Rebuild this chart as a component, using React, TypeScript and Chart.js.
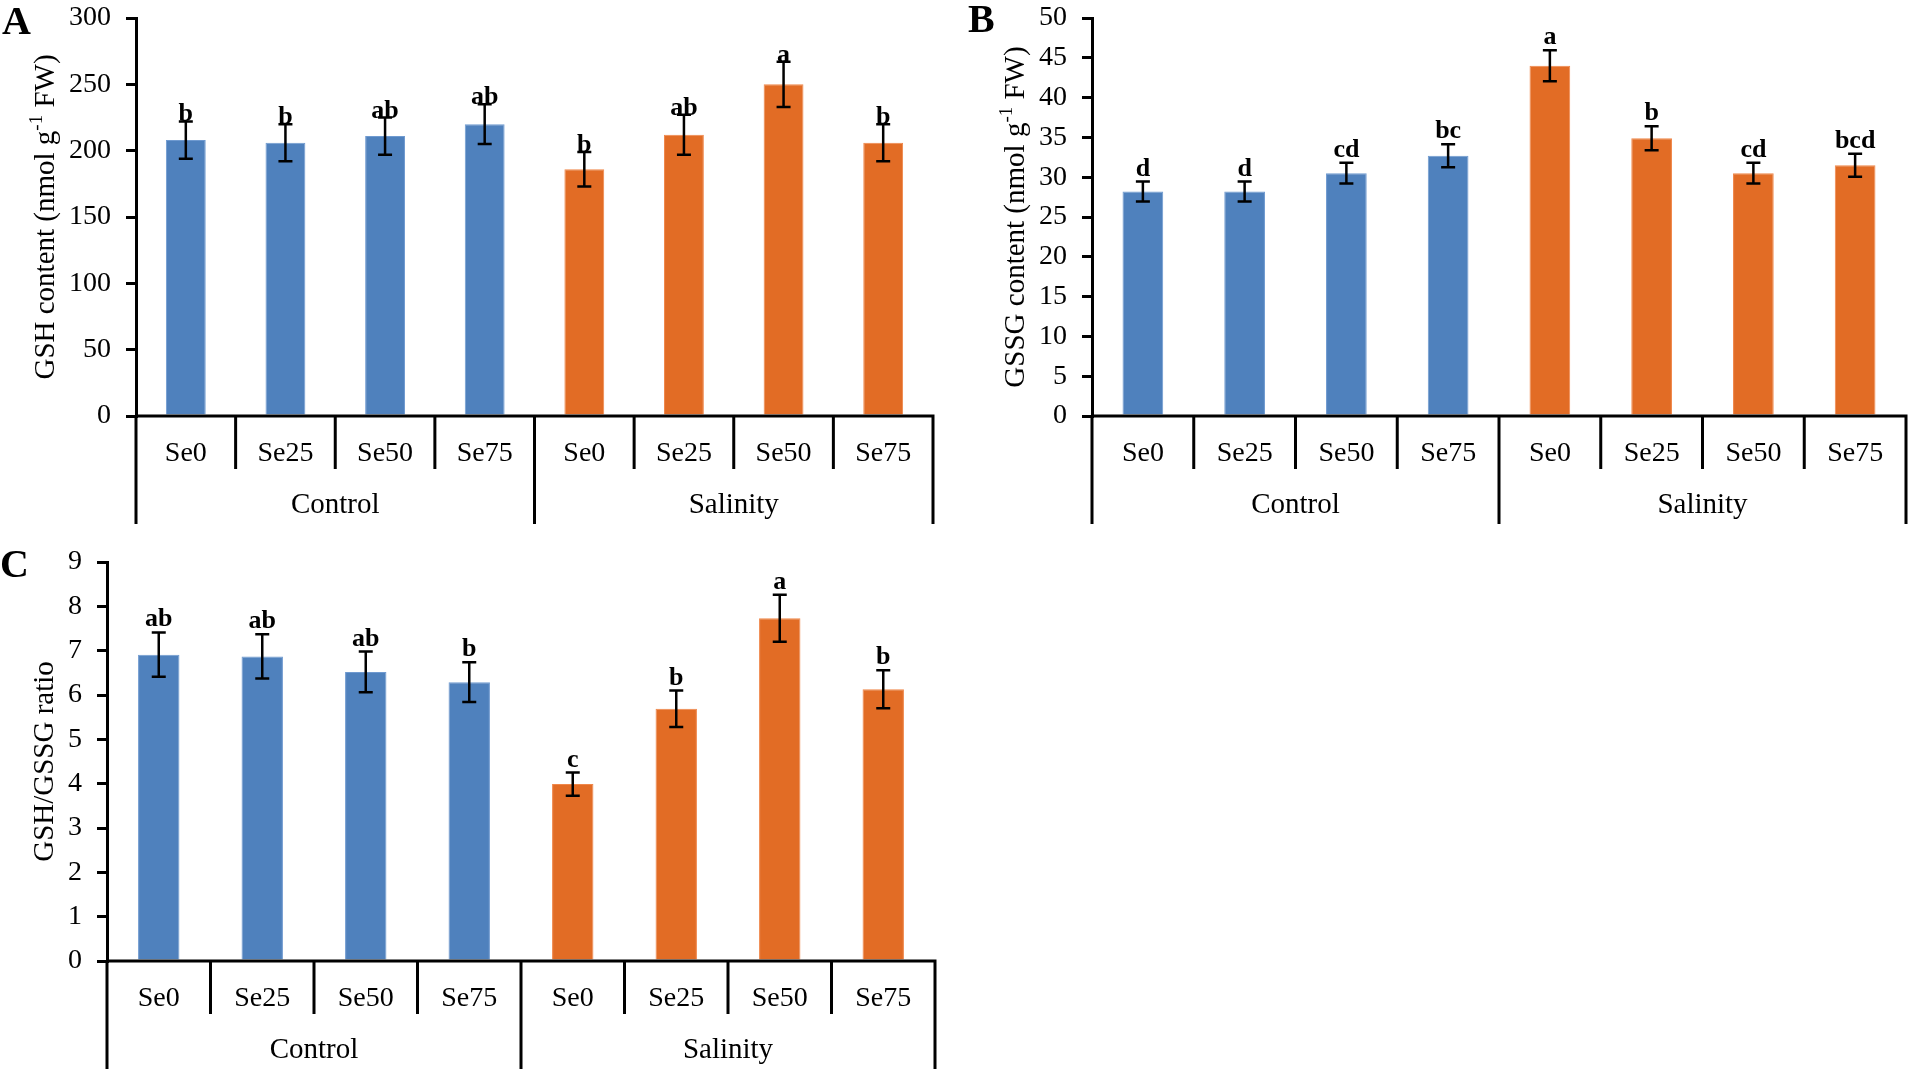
import React, { useEffect, useRef } from "react";
import { Chart, registerables } from "chart.js";

Chart.register(...registerables);

// ---------- data ----------
const subCategories = ["Se0", "Se25", "Se50", "Se75", "Se0", "Se25", "Se50", "Se75"];
const groupLabels = ["Control", "Salinity"];

const gshValues = [208, 206, 211, 220, 186, 212, 250, 206];
const gshErrors = [14, 14, 14, 15, 13, 15, 17, 14];
const gshLetters = ["b", "b", "ab", "ab", "b", "ab", "a", "b"];

const gssgValues = [28.2, 28.2, 30.5, 32.7, 44.0, 34.9, 30.5, 31.5];
const gssgErrors = [1.25, 1.25, 1.3, 1.45, 1.95, 1.5, 1.3, 1.45];
const gssgLetters = ["d", "d", "cd", "bc", "a", "b", "cd", "bcd"];

const ratioValues = [6.91, 6.87, 6.52, 6.29, 3.99, 5.69, 7.73, 6.13];
const ratioErrors = [0.5, 0.5, 0.46, 0.45, 0.26, 0.41, 0.53, 0.43];
const ratioLetters = ["ab", "ab", "ab", "b", "c", "b", "a", "b"];

const BLUE = "#4F81BD";
const BLUE_EDGE = "#6F9AD0";
const ORANGE = "#E26C25";
const ORANGE_EDGE = "#F0874A";
const FONT = '"Liberation Serif", "Times New Roman", serif';

const barColors = subCategories.map((_, i) => (i < 4 ? BLUE : ORANGE));
const barEdges = subCategories.map((_, i) => (i < 4 ? BLUE_EDGE : ORANGE_EDGE));

const decorPlugin = {
  id: "panelDecor",
  afterDatasetsDraw(chart: any, _args: any, opts: any) {
    const ctx = chart.ctx as CanvasRenderingContext2D;
    const { left, right, bottom, top } = chart.chartArea;
    const yScale = chart.scales.y;
    const meta = chart.getDatasetMeta(0);
    const ds = chart.data.datasets[0];
    const errs: number[] = opts.errors;
    const letters: string[] = opts.letters;
    ctx.save();

    // error bars + letters
    meta.data.forEach((bar: any, i: number) => {
      const v = ds.data[i] as number;
      const e = errs[i];
      const x = bar.x;
      const yT = yScale.getPixelForValue(v + e);
      const yB = yScale.getPixelForValue(v - e);
      ctx.strokeStyle = "#000";
      ctx.lineWidth = 2.5;
      ctx.beginPath();
      ctx.moveTo(x, yT);
      ctx.lineTo(x, yB);
      ctx.moveTo(x - 7, yT);
      ctx.lineTo(x + 7, yT);
      ctx.moveTo(x - 7, yB);
      ctx.lineTo(x + 7, yB);
      ctx.stroke();
      ctx.fillStyle = "#000";
      ctx.font = `bold 26px ${FONT}`;
      ctx.textAlign = "center";
      ctx.textBaseline = "alphabetic";
      ctx.fillText(letters[i], x, yT - opts.letterGap);
    });

    // axis lines and category separators
    const n = chart.data.labels.length;
    const w = (right - left) / n;
    const axisBottom = chart.height;
    ctx.strokeStyle = "#000";
    ctx.lineWidth = 3;
    ctx.beginPath();
    ctx.moveTo(left, bottom);
    ctx.lineTo(right + 1.5, bottom);
    for (let i = 0; i <= n; i++) {
      const x = left + i * w;
      ctx.moveTo(x, bottom);
      ctx.lineTo(x, i % 4 === 0 ? axisBottom : bottom + 53);
    }
    ctx.stroke();

    // sub labels
    ctx.fillStyle = "#000";
    ctx.textAlign = "center";
    ctx.textBaseline = "middle";
    ctx.font = `28px ${FONT}`;
    chart.data.labels.forEach((lab: string, i: number) => {
      ctx.fillText(lab, left + (i + 0.5) * w, bottom + 38);
    });
    ctx.font = `29px ${FONT}`;
    groupLabels.forEach((g, gi) => {
      ctx.fillText(g, left + (gi * 4 + 2) * w, bottom + 89);
    });

    // y title
    const cy = (top + bottom) / 2 + (opts.titleDy || 0);
    ctx.save();
    ctx.translate(opts.titleX, cy);
    ctx.rotate(-Math.PI / 2);
    ctx.textBaseline = "middle";
    ctx.textAlign = "left";
    const parts: { t: string; sup?: boolean }[] = opts.titleParts;
    const mainFont = `29px ${FONT}`;
    const supFont = `19px ${FONT}`;
    let total = 0;
    parts.forEach((p) => {
      ctx.font = p.sup ? supFont : mainFont;
      total += ctx.measureText(p.t).width;
    });
    let cx = -total / 2;
    parts.forEach((p) => {
      ctx.font = p.sup ? supFont : mainFont;
      ctx.fillText(p.t, cx, p.sup ? -9 : 0);
      cx += ctx.measureText(p.t).width;
    });
    ctx.restore();

    // panel letter
    ctx.font = `bold 40px ${FONT}`;
    ctx.textAlign = "left";
    ctx.textBaseline = "alphabetic";
    ctx.fillText(opts.panel, opts.panelX, opts.panelY);

    ctx.restore();
  },
};

type PanelProps = {
  left: number;
  top: number;
  width: number;
  height: number;
  areaLeft: number;
  areaTop: number;
  areaRight: number;
  areaBottom: number;
  values: number[];
  errors: number[];
  letters: string[];
  max: number;
  step: number;
  titleParts: { t: string; sup?: boolean }[];
  titleX: number;
  panel: string;
  panelX: number;
  panelY: number;
  letterGap: number;
};

function Panel(p: PanelProps) {
  const ref = useRef<HTMLCanvasElement | null>(null);
  useEffect(() => {
    if (!ref.current) return;
    const chart = new Chart(ref.current, {
      type: "bar",
      data: {
        labels: subCategories,
        datasets: [
          {
            data: p.values,
            backgroundColor: barColors,
            borderColor: barEdges,
            borderWidth: 1,
            barPercentage: 0.4,
            categoryPercentage: 1.0,
          },
        ],
      },
      plugins: [decorPlugin],
      options: {
        responsive: false,
        animation: false,
        devicePixelRatio: 1,
        layout: {
          padding: { top: p.areaTop, right: p.width - p.areaRight, left: 0, bottom: 0 },
        },
        plugins: {
          legend: { display: false },
          tooltip: { enabled: false },
          panelDecor: {
            errors: p.errors,
            letters: p.letters,
            letterGap: p.letterGap,
            titleParts: p.titleParts,
            titleX: p.titleX,
            panel: p.panel,
            panelX: p.panelX,
            panelY: p.panelY,
          },
        } as any,
        scales: {
          x: {
            display: true,
            offset: true,
            grid: { display: false },
            border: { display: false },
            ticks: { display: false },
            afterFit: (s: any) => {
              s.height = p.height - p.areaBottom;
              s.paddingLeft = 0;
              s.paddingRight = 0;
            },
          },
          y: {
            min: 0,
            max: p.max,
            ticks: {
              stepSize: p.step,
              autoSkip: false,
              color: "#000",
              padding: 15,
              font: { family: FONT, size: 28 },
            },
            grid: {
              display: true,
              drawOnChartArea: false,
              drawTicks: true,
              tickLength: 10,
              lineWidth: 3,
              color: "#000",
            },
            border: { display: true, color: "#000", width: 3 },
            afterFit: (s: any) => {
              s.width = p.areaLeft;
              s.paddingTop = 0;
              s.paddingBottom = 0;
            },
          },
        },
      } as any,
    });
    return () => chart.destroy();
  }, []);
  return (
    <div style={{ position: "absolute", left: p.left, top: p.top, width: p.width, height: p.height }}>
      <canvas
        ref={ref}
        width={p.width}
        height={p.height}
        style={{ width: p.width, height: p.height, display: "block" }}
      />
    </div>
  );
}

export default function App() {
  return (
    <div
      style={{
        position: "absolute",
        left: 0,
        top: 0,
        width: 1909,
        height: 1069,
        background: "#fff",
        overflow: "hidden",
      }}
    >
      <Panel
        left={0}
        top={0}
        width={960}
        height={524}
        areaLeft={136}
        areaTop={18}
        areaRight={933}
        areaBottom={416}
        values={gshValues}
        errors={gshErrors}
        letters={gshLetters}
        max={300}
        step={50}
        titleParts={[{ t: "GSH content (nmol g" }, { t: "-1", sup: true }, { t: " FW)" }]}
        titleX={46}
        panel="A"
        panelX={2}
        panelY={34}
        letterGap={0}
      />
      <Panel
        left={960}
        top={0}
        width={949}
        height={524}
        areaLeft={132}
        areaTop={18}
        areaRight={946}
        areaBottom={416}
        values={gssgValues}
        errors={gssgErrors}
        letters={gssgLetters}
        max={50}
        step={5}
        titleParts={[{ t: "GSSG content (nmol g" }, { t: "-1", sup: true }, { t: " FW)" }]}
        titleX={56}
        panel="B"
        panelX={8}
        panelY={32}
        letterGap={6}
      />
      <Panel
        left={0}
        top={540}
        width={960}
        height={529}
        areaLeft={107}
        areaTop={22}
        areaRight={935}
        areaBottom={421}
        values={ratioValues}
        errors={ratioErrors}
        letters={ratioLetters}
        max={9}
        step={1}
        titleParts={[{ t: "GSH/GSSG ratio" }]}
        titleX={45}
        panel="C"
        panelX={0}
        panelY={37}
        letterGap={6}
      />
    </div>
  );
}
